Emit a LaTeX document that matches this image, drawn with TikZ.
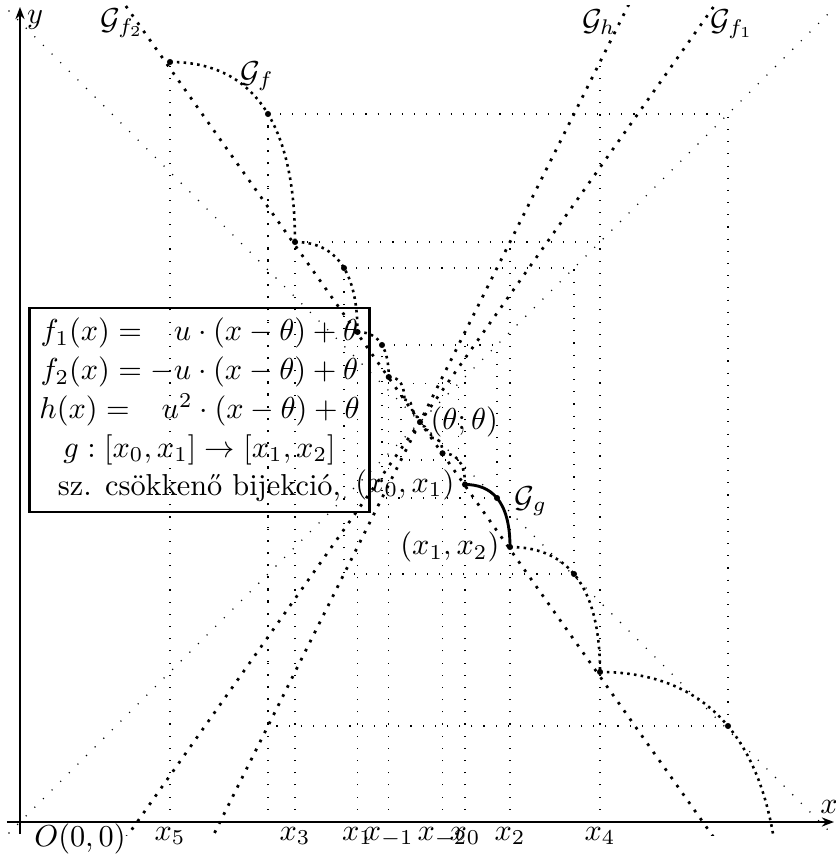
\documentclass[tikz,border=0pt]{standalone}
\usepackage{fontspec}
\usetikzlibrary{arrows.meta}
\newcommand\rpiece{(0.45,-0.625) .. controls (0.7034,-0.625) and (0.9,-0.7769) .. (0.9,-1.25)}
\newcommand\lpiece{(-0.625,0.9) .. controls (-0.38845,0.9) and (-0.3125,0.7034) .. (-0.3125,0.45)}
\begin{document}
\begin{tikzpicture}[x=1.16cm, y=1.16cm,
  griddot/.style={line width=0.37pt, dash pattern=on 0.37pt off 3.65pt},
  linedot/.style={line width=0.9pt, dash pattern=on 0.9pt off 2.45pt},
  curvedot/.style={line width=0.85pt, dash pattern=on 0.85pt off 1.4pt},
  marked/.style={circle, fill, inner sep=0pt, minimum size=2pt}]
\useasboundingbox (-4.2,-4.35) rectangle (4.16,4.22);
\begin{scope}
\clip (-4.14,-4.13) rectangle (4.14,4.16);
\draw[griddot] (-4.2,-4.2) -- (4.2,4.2);
\draw[griddot] (-4.2,4.2) -- (4.2,-4.2);
\foreach \u/\v in {-2.5/3.6, -1.52/3.08, -1.25/1.8, -0.625/0.9, -0.3125/0.45, 0.225/0.45, 0.45/0.9, 0.9/1.8, 1.8/3.6}
  \draw[griddot] (\u,-4) -- (\u,\v);
\draw[griddot] (-1.25,1.8) -- (1.8,1.8);
\foreach \k in {-1,...,2} {
  \pgfmathsetmacro\s{2^\k}
  \draw[griddot, scale=\s] (-0.38,0.77) -- (0.77,0.77) -- (0.77,-0.76) -- (-0.38,-0.76) -- cycle;
}
\draw[linedot] (-3,-4.2426) -- (3,4.2426);
\draw[linedot] (-3,4.2426) -- (3,-4.2426);
\draw[linedot] (-2.1,-4.2) -- (2.1,4.2);
\foreach \k in {-4,...,2} {
  \pgfmathsetmacro\s{2^\k}
  \draw[curvedot, scale=\s] \lpiece;
  \ifnum\k=0 \draw[line width=0.95pt] \rpiece; \else \draw[curvedot, scale=\s] \rpiece; \fi
}
\end{scope}
\draw[thick, -{Stealth[length=4pt, width=3pt]}] (-4.13,-4) -- (4.14,-4);
\draw[thick, -{Stealth[length=4pt, width=3pt]}] (-4,-4.12) -- (-4,4.15);
\foreach \u/\v/\n in {-2.5/3.6/a, -1.52/3.08/b, -1.25/1.8/c, -0.76/1.54/d, -0.625/0.9/e, -0.38/0.77/f, -0.3125/0.45/g,
  0/0/th, 0.225/-0.3125/h, 0.45/-0.625/i, 0.77/-0.76/j, 0.9/-1.25/k, 1.54/-1.52/l, 1.8/-2.5/m, 3.08/-3.04/n}
  \node[marked] (pt\n) at (\u,\v) {};
\node[right] (thlab) at (ptth) {$(\theta;\theta)$};
\node[left] (x0lab) at (pti) {$(x_0,x_1)$};
\node[left] (x1lab) at (ptk) {$(x_1,x_2)$};
\node (gglab) at (1.11,-0.79) {$\mathcal{G}_g$};
\node (gflab) at (-1.63,3.46) {$\mathcal{G}_f$};
\node (gf2lab) at (-2.98,3.99) {$\mathcal{G}_{f_2}$};
\node (ghlab) at (1.79,4.0) {$\mathcal{G}_h$};
\node (gf1lab) at (3.12,3.98) {$\mathcal{G}_{f_1}$};
\node[draw, thick, align=center] (info) at (-2.205,0.12) {$f_1(x) = \phantom{-}u\cdot(x-\theta)+\theta$\\[0.8pt] $f_2(x) = -u\cdot(x-\theta)+\theta$\\[0.8pt] $h(x) = \phantom{-}u^2\cdot(x-\theta)+\theta$\\[0.8pt] $g:[x_0,x_1]\to[x_1,x_2]$\\[0.8pt] sz. csökkenő bijekció,};
\node (xlab) at (4.09,-3.85) {$x$};
\node (ylab) at (-3.85,4.02) {$y$};
\node (olab) at (-3.4,-4.165) {$O(0,0)$};
\foreach \u/\t in {-2.5/5, -1.25/3, -0.625/1, -0.3125/-1, 0.225/-2, 0.45/0, 0.9/2, 1.8/4}
  \node[anchor=base] (lab\t) at (\u,-4.18) {$x_{\t}$};
\end{tikzpicture}
\end{document}
